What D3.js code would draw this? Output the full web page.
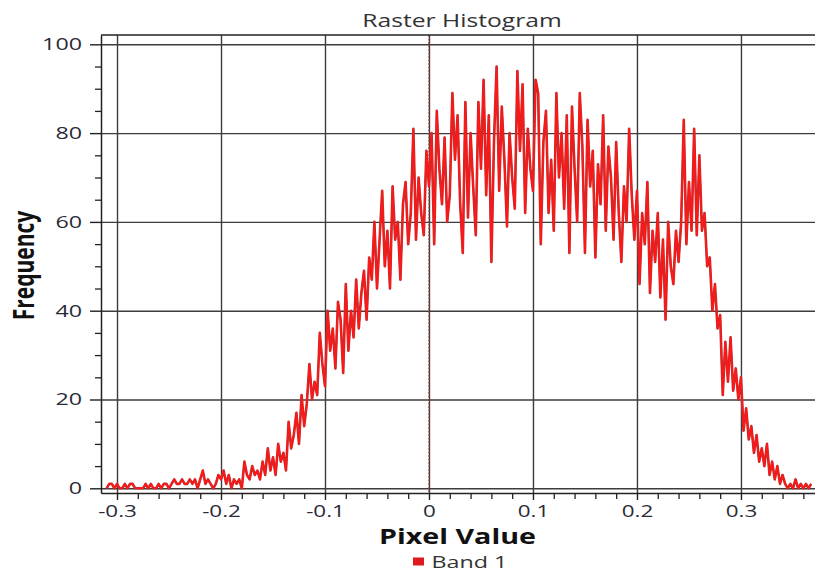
<!DOCTYPE html>
<html><head><meta charset="utf-8">
<script src="https://cdn.jsdelivr.net/npm/d3@7"></script>
<style>body{margin:0;background:#fff}svg{display:block}</style>
</head><body><svg id="c" width="815" height="572"></svg>
<script>
const chartTitle = "Raster Histogram";
const xLabel = "Pixel Value";
const yLabel = "Frequency";
const seriesName = "Band 1";
const binStart = -0.31;
const binWidth = 0.0025;
const frequency = [
  0,1,1,0,1,0,0,1,0,1, 1,0,0,0,0,1,0,1,0,0, 1,0,1,1,0,1,2,1,1,2, 1,1,2,1,2,0,2,4,1,2,
  1,0,1,3,2,4,1,3,0,2, 1,2,0,6,3,2,5,3,4,2,
  6,3,9,4,7,3,10,6,8,4, 15,9,12,17,10,21,14,19,28,20,
  24,21,35,28,23,40,31,36,27,42, 38,26,46,31,40,34,47,36,44,49,
  38,52,47,60,45,56,67,50,58,45, 68,56,60,47,64,69,55,62,81,56,
  70,62,57,76,68,80,55,85,72,64, 79,60,66,89,74,84,64,53,87,61,
  80,68,57,87,72,92,66,84,51,78, 95,67,86,74,59,80,70,63,94,76,
  91,62,81,72,67,92,89,55,78,85, 62,74,58,89,70,80,63,84,53,86,
  72,60,89,77,53,83,68,76,52,73, 64,84,58,77,70,56,78,62,51,68,
  60,81,66,56,67,46,62,55,69,44, 58,51,62,43,56,38,60,50,46,58,
  51,60,83,55,69,58,81,57,75,58, 62,50,52,40,46,36,39,21,33,24,
  34,22,27,20,25,13,18,11,14,8, 12,6,9,5,10,3,6,2,5,1, 3,1,0,1,0,2,0,1,0,1, 0,1
];
const xTickValues = [-0.3,-0.2,-0.1,0,0.1,0.2,0.3];
const xTickLabels = ["-0.3","-0.2","-0.1","0","0.1","0.2","0.3"];
const yTickValues = [0,20,40,60,80,100];
const yTickLabels = ["0","20","40","60","80","100"];
const xMinorStep = 0.02;
const yMinorStep = 5;

const L = 101, R = 815, T = 35, B = 493;
const K = 1.37; // horizontal text stretch
const FONT = "'Open Sans', 'Noto Sans', sans-serif";
const svg = d3.select("#c");

const x = d3.scaleLinear().domain([-0.3154, 0.3712]).range([L, R]);
const y = d3.scaleLinear().domain([-1.06, 102.1]).range([B, T]);

const points = frequency.map((f, i) => ({v: binStart + i * binWidth, f}));

// gridlines
const gx = svg.append("g").attr("transform", `translate(0,${B})`)
  .call(d3.axisBottom(x).tickValues(xTickValues).tickSize(-(B - T)).tickFormat(""));
gx.select(".domain").remove();
gx.selectAll("line").attr("stroke", "#3c3c3c").attr("stroke-width", 1.4);
const gy = svg.append("g").attr("transform", `translate(${L},0)`)
  .call(d3.axisLeft(y).tickValues(yTickValues).tickSize(-(R - L)).tickFormat(""));
gy.select(".domain").remove();
gy.selectAll("line").attr("stroke", "#3c3c3c").attr("stroke-width", 1.4);

// zero dotted line
svg.append("line").attr("x1", x(0)).attr("x2", x(0)).attr("y1", T).attr("y2", B)
  .attr("stroke", "#a03a3a").attr("stroke-width", 1.2).attr("stroke-dasharray", "2,1.5");

// top spine
svg.append("line").attr("x1", L).attr("x2", R).attr("y1", T).attr("y2", T)
  .attr("stroke", "#222").attr("stroke-width", 1.5);

// minor ticks
const xMinor = d3.range(-0.3, 0.3701, xMinorStep).filter(v => Math.abs(Math.round(v * 10) - v * 10) > 1e-6);
const xm = svg.append("g").attr("transform", `translate(0,${B})`)
  .call(d3.axisBottom(x).tickValues(xMinor).tickSize(6).tickFormat(""));
xm.select(".domain").remove();
xm.selectAll("line").attr("stroke", "#222").attr("stroke-width", 1.3);
const yMinor = d3.range(5, 100, yMinorStep).filter(v => v % 20 !== 0);
const ym = svg.append("g").attr("transform", `translate(${L},0)`)
  .call(d3.axisLeft(y).tickValues(yMinor).tickSize(6).tickFormat(""));
ym.select(".domain").remove();
ym.selectAll("line").attr("stroke", "#222").attr("stroke-width", 1.3);

// axes
const ax = svg.append("g").attr("transform", `translate(0,${B})`)
  .call(d3.axisBottom(x).tickValues(xTickValues).tickSize(7).tickSizeOuter(0).tickPadding(6)
    .tickFormat((d, i) => xTickLabels[i]));
const ay = svg.append("g").attr("transform", `translate(${L},0)`)
  .call(d3.axisLeft(y).tickValues(yTickValues).tickSize(11).tickSizeOuter(0).tickPadding(8)
    .tickFormat((d, i) => yTickLabels[i]));
[ax, ay].forEach(a => {
  a.attr("font-family", FONT).attr("font-size", 17);
  a.select(".domain").attr("stroke", "#222").attr("stroke-width", 1.5);
  a.selectAll("line").attr("stroke", "#222").attr("stroke-width", 1.4);
  a.selectAll("text").attr("fill", "#2a2a36");
});
ax.attr("font-size", 16);
ax.selectAll("text").attr("transform", `scale(${K + 0.03},1)`);
ay.selectAll("text").attr("x", -19 / K).attr("transform", `scale(${K},1)`);

// series
svg.append("clipPath").attr("id", "clip").append("rect")
  .attr("x", L).attr("y", T).attr("width", R - L).attr("height", B - T);
const line = d3.line().x(d => x(d.v)).y(d => y(d.f));
const gs = svg.append("g").attr("clip-path", "url(#clip)");
gs.append("path").datum(points).attr("d", line).attr("fill", "none")
  .attr("stroke", "#b83434").attr("stroke-width", 2.6).attr("stroke-linejoin", "round");
gs.append("path").datum(points).attr("d", line).attr("fill", "none")
  .attr("stroke", "#ff1616").attr("stroke-width", 1.6).attr("stroke-linejoin", "round");

// texts
svg.append("text").attr("transform", `translate(462,26.5) scale(${K},1)`)
  .attr("text-anchor", "middle").attr("font-family", FONT).attr("font-size", 18)
  .attr("fill", "#333").text(chartTitle);
svg.append("text").attr("transform", `translate(457.5,544) scale(${K + 0.03},1)`)
  .attr("text-anchor", "middle").attr("font-family", FONT).attr("font-size", 20.5)
  .attr("font-weight", "bold").attr("fill", "#111").text(xLabel);
svg.append("text").attr("transform", `translate(34,265.5) scale(${K},1) rotate(-90)`)
  .attr("text-anchor", "middle").attr("font-family", FONT).attr("font-size", 21)
  .attr("font-weight", "bold").attr("fill", "#111").text(yLabel);

// legend
svg.append("rect").attr("x", 413).attr("y", 557.5).attr("width", 11).attr("height", 8).attr("fill", "#e01a1a");
svg.append("text").attr("transform", `translate(431.5,567.5) scale(${K},1)`)
  .attr("font-family", FONT).attr("font-size", 17).attr("fill", "#333").text(seriesName);
</script></body></html>
